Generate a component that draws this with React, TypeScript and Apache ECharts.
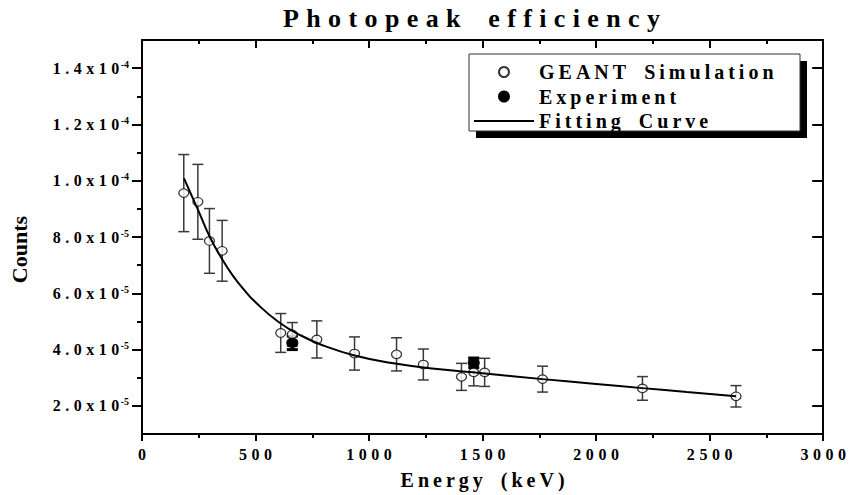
import React, { useEffect, useRef } from 'react';
import * as echarts from 'echarts';

// ---- data ----
const simEnergy = [184, 246, 297, 353, 611, 662, 770, 936, 1121, 1239, 1407, 1461, 1509, 1764, 2204, 2616];
const simValue = [9.56e-5, 9.25e-5, 7.86e-5, 7.51e-5, 4.59e-5, 4.54e-5, 4.36e-5, 3.86e-5, 3.83e-5, 3.47e-5, 3.03e-5, 3.19e-5, 3.19e-5, 2.95e-5, 2.62e-5, 2.34e-5];
const simError = [1.37e-5, 1.33e-5, 1.15e-5, 1.08e-5, 0.69e-5, 0.42e-5, 0.66e-5, 0.59e-5, 0.59e-5, 0.55e-5, 0.48e-5, 0.48e-5, 0.5e-5, 0.46e-5, 0.42e-5, 0.38e-5];

const expEnergy = [662, 1461];
const expValue = [4.24e-5, 3.53e-5];
const expError = [0.24e-5, 0.17e-5];

const fitEnergy = [185, 250, 300, 350, 400, 450, 500, 600, 700, 800, 936, 1100, 1300, 1500, 1764, 2000, 2204, 2400, 2616];
const fitValue = [10.08e-5, 8.9e-5, 7.98e-5, 7.25e-5, 6.63e-5, 6.12e-5, 5.68e-5, 4.99e-5, 4.5e-5, 4.14e-5, 3.79e-5, 3.52e-5, 3.31e-5, 3.16e-5, 2.95e-5, 2.78e-5, 2.63e-5, 2.49e-5, 2.34e-5];

const yTickValues = [2e-5, 4e-5, 6e-5, 8e-5, 1.0e-4, 1.2e-4, 1.4e-4];
const yTickMantissa = ['2.0', '4.0', '6.0', '8.0', '1.0', '1.2', '1.4'];
const yTickExponent = ['-5', '-5', '-5', '-5', '-4', '-4', '-4'];
const yMinorValues = [3e-5, 5e-5, 7e-5, 9e-5, 1.1e-4, 1.3e-4];

const titleText = 'Photopeak efficiency';
const xName = 'Energy (keV)';
const yName = 'Counts';
const legendNames = ['GEANT Simulation', 'Experiment', 'Fitting Curve'];

const FONT = '"Liberation Serif", "Times New Roman", serif';

function sp(s: string, gap = '\u2009'): string {
  return Array.from(s)
    .map((c) => (c === ' ' ? '\u2002' : c))
    .join(gap);
}

function errorBarSeries(name: string, data: number[][], color: string, width: number, capWidth: number, capHalf: number) {
  return {
    name,
    type: 'custom',
    xAxisIndex: 0,
    yAxisIndex: 0,
    z: 2,
    data,
    encode: { x: 0, y: [1, 2] },
    renderItem: (params: any, api: any) => {
      const x = api.value(0);
      const lo = api.value(1);
      const hi = api.value(2);
      const top = api.coord([x, hi]);
      const bot = api.coord([x, lo]);
      const style = { stroke: color, lineWidth: width };
      const cap = { stroke: color, lineWidth: capWidth };
      return {
        type: 'group',
        children: [
          { type: 'line', shape: { x1: top[0], y1: top[1], x2: bot[0], y2: bot[1] }, style },
          { type: 'line', shape: { x1: top[0] - capHalf, y1: top[1], x2: top[0] + capHalf, y2: top[1] }, style: cap },
          { type: 'line', shape: { x1: bot[0] - capHalf, y1: bot[1], x2: bot[0] + capHalf, y2: bot[1] }, style: cap },
        ],
      };
    },
  };
}

export default function App() {
  const ref = useRef<HTMLDivElement>(null);

  useEffect(() => {
    if (!ref.current) return;
    const chart = echarts.init(ref.current, undefined, { renderer: 'svg' });

    const axisLine = { show: true, onZero: false, lineStyle: { color: '#000', width: 2 } };
    const labelStyle = { fontFamily: FONT, fontWeight: 'bold' as const, fontSize: 16, color: '#000' };
    const wide = '\u2009\u200A';

    const yLabelFormatter = (v: number) => {
      const i = yTickValues.findIndex((t) => Math.abs(t - v) < 1e-9);
      if (i < 0) return '';
      return `{m|${sp(yTickMantissa[i] + 'x10', wide)}}{g|\u200A}{s|${yTickExponent[i]}}`;
    };

    const simErr = simEnergy.map((e, i) => [e, simValue[i] - simError[i], simValue[i] + simError[i]]);
    const expErr = expEnergy.map((e, i) => [e, expValue[i] - expError[i], expValue[i] + expError[i]]);

    const option: any = {
      animation: false,
      backgroundColor: '#fff',
      title: {
        text: sp(titleText, wide),
        left: 283,
        top: 5,
        padding: 0,
        textStyle: { fontFamily: FONT, fontWeight: 'bold', fontSize: 26, color: '#000' },
      },
      grid: { left: 141, right: 22, top: 40, bottom: 60, containLabel: false },
      legend: {
        orient: 'vertical',
        left: 473,
        top: 62,
        padding: 0,
        itemWidth: 60,
        itemHeight: 10,
        itemGap: 4.5,
        z: 10,
        data: [
          { name: legendNames[0] },
          { name: legendNames[1] },
          { name: legendNames[2], itemStyle: { opacity: 0 } },
        ],
        formatter: (n: string) => sp(n),
        textStyle: { fontFamily: FONT, fontWeight: 'bold', fontSize: 20, color: '#000', lineHeight: 20 },
      },
      graphic: [
        { type: 'rect', z: 3, shape: { x: 476, y: 61, width: 331, height: 77 }, style: { fill: '#000' } },
        { type: 'rect', z: 3, shape: { x: 469, y: 54, width: 331, height: 77 }, style: { fill: '#fff', stroke: '#333', lineWidth: 1 } },
      ],
      xAxis: [
        {
          type: 'value',
          position: 'bottom',
          min: 0,
          max: 3000,
          interval: 500,
          axisLine,
          axisTick: { show: true, inside: false, length: 7, lineStyle: { color: '#000', width: 2 } },
          minorTick: { show: true, splitNumber: 2, length: 4, lineStyle: { color: '#000', width: 2 } },
          splitLine: { show: false },
          minorSplitLine: { show: false },
          axisLabel: { ...labelStyle, margin: 12, formatter: (v: number) => sp(String(v), wide) },
          name: sp(xName),
          nameLocation: 'middle',
          nameGap: 36,
          nameTextStyle: { fontFamily: FONT, fontWeight: 'bold', fontSize: 20, color: '#000' },
        },
        {
          type: 'value',
          position: 'top',
          min: 0,
          max: 3000,
          interval: 500,
          axisLine,
          axisTick: { show: true, inside: true, length: 8, lineStyle: { color: '#000', width: 2 } },
          minorTick: { show: true, splitNumber: 2, length: 4, lineStyle: { color: '#000', width: 2 } },
          splitLine: { show: false },
          axisLabel: { show: false },
        },
      ],
      yAxis: [
        {
          type: 'value',
          position: 'left',
          min: 1e-5,
          max: 1.5e-4,
          interval: 1e-5,
          axisLine,
          axisTick: { show: true, inside: false, length: 10, customValues: yTickValues, lineStyle: { color: '#000', width: 2 } },
          splitLine: { show: false },
          axisLabel: {
            ...labelStyle,
            margin: 13,
            customValues: yTickValues,
            formatter: yLabelFormatter,
            rich: {
              m: { fontFamily: FONT, fontWeight: 'bold', fontSize: 16, color: '#000', lineHeight: 18 },
              g: { fontFamily: FONT, fontSize: 16, lineHeight: 18 },
              s: { fontFamily: FONT, fontWeight: 'bold', fontSize: 10, color: '#000', verticalAlign: 'top', lineHeight: 10 },
            },
          },
          name: yName,
          nameLocation: 'middle',
          nameRotate: 90,
          nameGap: 112,
          nameTextStyle: { fontFamily: FONT, fontWeight: 'bold', fontSize: 22, color: '#000', padding: [0, 25, 0, 0] },
        },
        {
          type: 'value',
          position: 'left',
          min: 1e-5,
          max: 1.5e-4,
          interval: 1e-5,
          axisLine: { show: false },
          axisTick: { show: true, inside: false, length: 5, customValues: yMinorValues, lineStyle: { color: '#000', width: 2 } },
          splitLine: { show: false },
          axisLabel: { show: false },
        },
        {
          type: 'value',
          position: 'right',
          min: 1e-5,
          max: 1.5e-4,
          interval: 1e-5,
          axisLine,
          axisTick: { show: true, inside: true, length: 11, customValues: yTickValues, lineStyle: { color: '#000', width: 2 } },
          splitLine: { show: false },
          axisLabel: { show: false },
        },
        {
          type: 'value',
          position: 'right',
          min: 1e-5,
          max: 1.5e-4,
          interval: 1e-5,
          axisLine: { show: false },
          axisTick: { show: true, inside: true, length: 5, customValues: yMinorValues, lineStyle: { color: '#000', width: 2 } },
          splitLine: { show: false },
          axisLabel: { show: false },
        },
      ],
      series: [
        errorBarSeries('simErr', simErr, '#3a3a3a', 1.5, 1.5, 5.5),
        errorBarSeries('expErr', expErr, '#000', 1.5, 3, 5.5),
        {
          name: 'GEANT Simulation',
          type: 'scatter',
          xAxisIndex: 0,
          yAxisIndex: 0,
          z: 3,
          symbol: 'circle',
          symbolSize: [10, 8.5],
          itemStyle: { color: '#fff', borderColor: '#000', borderWidth: 1.2 },
          data: simEnergy.map((e, i) => [e, simValue[i]]),
        },
        {
          name: 'Experiment',
          type: 'scatter',
          xAxisIndex: 0,
          yAxisIndex: 0,
          z: 4,
          symbol: 'circle',
          symbolSize: [11, 9.5],
          itemStyle: { color: '#000', borderColor: '#000', borderWidth: 1, opacity: 1 },
          data: expEnergy.map((e, i) => [e, expValue[i]]),
        },
        {
          name: 'Fitting Curve',
          type: 'line',
          xAxisIndex: 0,
          yAxisIndex: 0,
          z: 5,
          smooth: true,
          symbol: 'none',
          lineStyle: { color: '#000', width: 2 },
          itemStyle: { color: '#000' },
          data: fitEnergy.map((e, i) => [e, fitValue[i]]),
        },
      ],
    };

    chart.setOption(option);
    return () => chart.dispose();
  }, []);

  return (
    <div
      ref={ref}
      style={{ position: 'fixed', left: 0, top: 0, width: 849, height: 495, background: '#fff' }}
    />
  );
}
